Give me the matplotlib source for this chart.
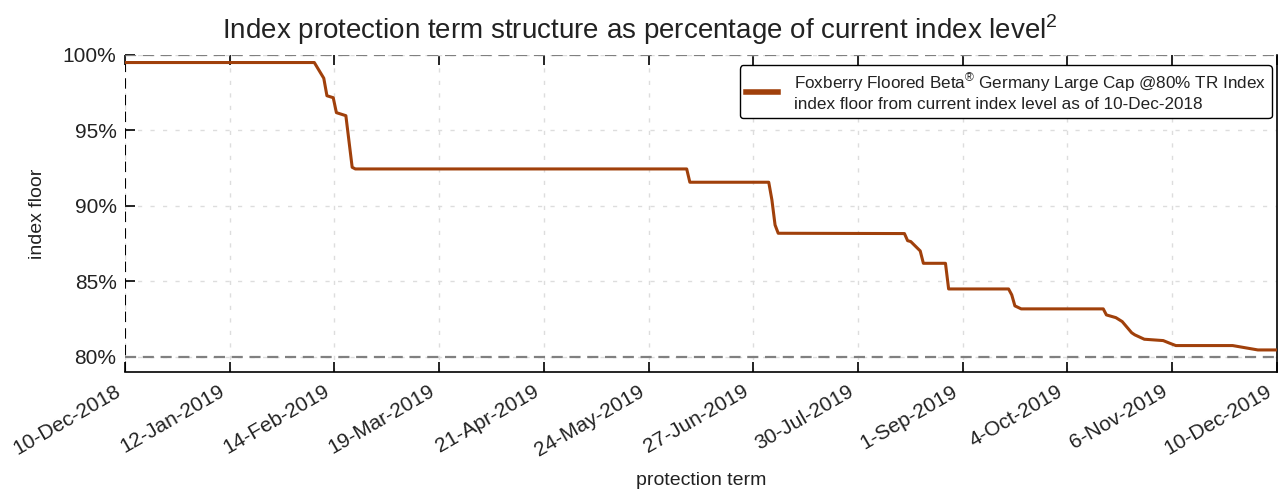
"""
Index protection term structure: index floor vs protection term, saved as out.png.
"""
import datetime as dt
import numpy as np
import matplotlib
matplotlib.use('Agg')
from matplotlib import pyplot as plt
import matplotlib.dates as mdates
import matplotlib.transforms as mtransforms
from matplotlib.ticker import FuncFormatter

plt.rcParams['font.family'] = ['Liberation Sans', 'DejaVu Sans']
plt.rcParams['mathtext.fontset'] = 'custom'
plt.rcParams['mathtext.rm'] = 'Liberation Sans'

start_date = dt.date(2018, 12, 10)
end_date = dt.date(2019, 12, 10)

# days after start_date, index floor in % of current level
term_days = [0, 60, 63, 64, 66, 67, 70, 72, 73, 178, 179, 204, 205, 206, 207,
             247, 248, 249, 252, 253, 260, 261, 280, 281, 282, 284, 310, 311,
             314, 316, 319, 320, 323, 329, 331, 333, 351, 359, 365]
floor_pct = [99.5, 99.5, 98.46, 97.3, 97.17, 96.18, 95.98, 92.56, 92.45, 92.45,
             91.57, 91.57, 90.4, 88.74, 88.19, 88.17, 87.7, 87.64, 87.02, 86.2,
             86.2, 84.5, 84.5, 84.11, 83.38, 83.18, 83.18, 82.78, 82.6, 82.34,
             81.6, 81.46, 81.17, 81.08, 80.91, 80.75, 80.75, 80.46, 80.46]

legend_label = ('Foxberry Floored Beta$^{\\circledR}$ Germany Large Cap @80% TR Index\n'
                'index floor from current index level as of 10-Dec-2018')

dates = [start_date + dt.timedelta(days=d) for d in term_days]

fig = plt.figure(figsize=(12.79, 4.94), dpi=100)
ax = fig.add_axes([0.0977, 0.247, 0.9006, 0.6417])

line_color = '#a0400b'
ax.plot(dates, floor_pct, color=line_color, lw=2.2, label=legend_label, zorder=4)

x0 = mdates.date2num(start_date)
x1 = mdates.date2num(end_date)
ax.set_xlim(x0, x1)
ax.set_ylim(79, 100)

ax.axhline(100, color='#808080', ls=(0, (5, 3)), lw=1.6, zorder=3)
ax.axhline(80, color='#808080', ls=(0, (5, 3)), lw=1.6, zorder=3)
ax.axvline(x0, color='black', ls=(0, (5, 3)), lw=1.5, zorder=3)

ax.set_xticks(np.linspace(x0, x1, 12))
ax.xaxis.set_major_formatter(FuncFormatter(
    lambda v, pos: (lambda d: f'{d.day}-{d:%b-%Y}')(mdates.num2date(v + 1e-6))))
ax.set_yticks([80, 85, 90, 95, 100])
ax.yaxis.set_major_formatter(FuncFormatter(lambda v, pos: f'{v:.0f}%'))

ax.tick_params(axis='both', direction='in', length=7, width=1.2, labelsize=15,
               top=True, right=False, colors='black', labelcolor='#222222')
ax.tick_params(axis='x', pad=7)
ax.tick_params(axis='y', pad=6)
plt.setp(ax.get_xticklabels(), rotation=30, ha='right', rotation_mode='anchor')
shift = mtransforms.ScaledTranslation(-11 / 100, 0, fig.dpi_scale_trans)
for lbl in ax.get_xticklabels():
    lbl.set_transform(lbl.get_transform() + shift)

ax.grid(True, color='#dddddd', ls=(0, (3, 6)), lw=1)
ax.spines['left'].set_visible(False)
ax.spines['top'].set_visible(False)
ax.spines['bottom'].set_linewidth(1.2)
ax.spines['right'].set_linewidth(1.2)

ax.set_xlabel('protection term', fontsize=14, labelpad=9, color='#222222')
ax.set_ylabel('index floor', fontsize=14, labelpad=12, color='#222222')
fig.text(0.5, 0.94, 'Index protection term structure as percentage of current index level$^2$',
         fontsize=20, ha='center', va='center', color='#222222')

leg = ax.legend(loc='upper right', fontsize=12.3, frameon=True, fancybox=True,
                edgecolor='black', framealpha=1, handlelength=1.9, handletextpad=0.9,
                bbox_to_anchor=(0.9957, 0.967), borderaxespad=0.0,
                borderpad=0.35, labelspacing=0.1)
leg.get_frame().set_linewidth(1)
for t in leg.get_texts():
    t.set_color('#222222')
for h in leg.legend_handles:
    h.set_linewidth(4)

fig.savefig('out.png', dpi=100)
